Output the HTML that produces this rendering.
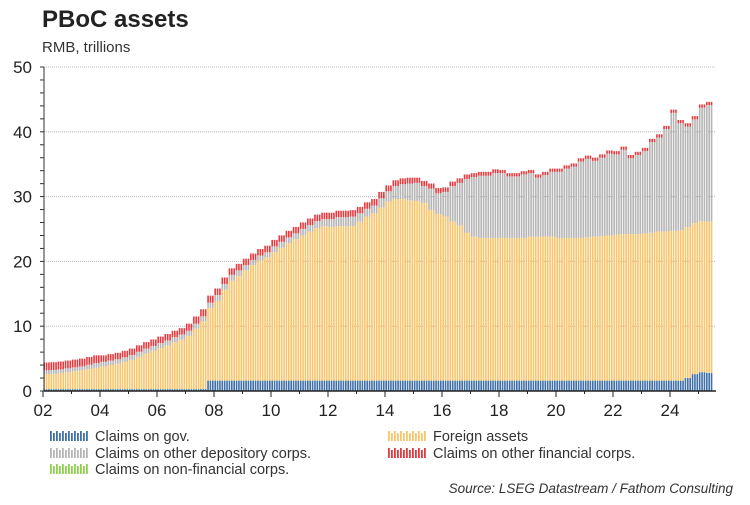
<!DOCTYPE html>
<html><head><meta charset="utf-8"><style>
body{margin:0;background:#fff;font-family:"Liberation Sans",Arial,sans-serif}
svg text{font-family:"Liberation Sans",Arial,sans-serif}
</style></head><body>
<svg id="c" width="750" height="500">
<text x="42" y="27" font-size="24" font-weight="bold" fill="#222">PBoC assets</text>
<text x="42" y="52" font-size="15" fill="#333">RMB, trillions</text>
<g id="grid"></g><g id="bars"></g><g id="axes"></g>
<g id="legend" font-size="14.5" fill="#333"></g>
<text x="733" y="493" font-size="13.5" font-style="italic" fill="#333" text-anchor="end">Source: LSEG Datastream / Fathom Consulting</text>
</svg>
<script>
// quarterly values 2002Q1..2025Q2 (RMB trillions), one line per year
const startYear = 2002;
const gov = [
0.28,0.28,0.28,0.28, //2002
0.28,0.28,0.28,0.28, //2003
0.28,0.28,0.28,0.28, //2004
0.28,0.28,0.28,0.28, //2005
0.28,0.28,0.28,0.28, //2006
0.28,0.28,0.3,1.6,   //2007
1.6,1.6,1.6,1.6, //2008
1.6,1.6,1.6,1.6, //2009
1.6,1.6,1.6,1.6, //2010
1.6,1.6,1.6,1.6, //2011
1.6,1.6,1.6,1.6, //2012
1.6,1.6,1.6,1.6, //2013
1.6,1.6,1.6,1.6, //2014
1.6,1.6,1.6,1.6, //2015
1.6,1.6,1.6,1.6, //2016
1.6,1.6,1.6,1.6, //2017
1.6,1.6,1.6,1.6, //2018
1.6,1.6,1.6,1.6, //2019
1.6,1.6,1.6,1.6, //2020
1.6,1.6,1.6,1.6, //2021
1.6,1.6,1.6,1.6, //2022
1.6,1.6,1.6,1.6, //2023
1.6,1.6,2.0,2.6, //2024
2.9,2.8];        //2025
const foreign = [
2.3,2.35,2.45,2.6, //2002
2.75,2.9,3.1,3.3,  //2003
3.5,3.7,3.9,4.2,   //2004
4.5,5.0,5.5,5.9,   //2005
6.3,6.7,7.2,7.6,   //2006
8.2,9.3,10.4,11.2, //2007
12.3,14.0,15.4,16.1, //2008
17.0,17.8,18.5,19.0, //2009
19.8,20.5,21.2,21.8, //2010
22.4,23.0,23.5,23.8, //2011
23.7,23.8,23.8,23.8, //2012
24.5,25.3,25.8,26.7, //2013
27.6,28.0,28.0,27.8, //2014
27.7,27.4,26.3,25.7, //2015
25.3,24.5,23.9,22.8, //2016
22.2,22.0,22.0,22.0, //2017
22.0,22.0,22.0,22.0, //2018
22.2,22.2,22.2,22.2, //2019
22.0,22.0,22.0,22.0, //2020
22.1,22.2,22.3,22.4, //2021
22.5,22.6,22.6,22.6, //2022
22.7,22.8,23.0,23.0, //2023
23.1,23.2,23.3,23.3, //2024
23.3,23.3];          //2025
const depository = [
0.6,0.6,0.6,0.6,     //2002
0.6,0.6,0.65,0.7,    //2003
0.7,0.7,0.7,0.7,     //2004
0.75,0.75,0.75,0.75, //2005
0.8,0.8,0.8,0.8,     //2006
0.8,0.8,0.8,0.8,     //2007
0.9,0.9,0.9,0.9,     //2008
0.8,0.8,0.8,0.8,     //2009
0.9,0.9,0.9,0.9,     //2010
1.0,1.0,1.1,1.1,     //2011
1.2,1.4,1.4,1.5,     //2012
1.3,1.2,1.2,1.4,     //2013
1.6,2.0,2.3,2.6,     //2014
2.8,2.6,3.3,3.2,     //2015
3.8,5.5,6.6,8.3,     //2016
9.2,9.6,9.6,10.0,    //2017
10.0,9.5,9.5,9.8,    //2018
9.8,9.1,9.5,10.0,    //2019
10.2,10.7,11.0,11.8, //2020
12.1,11.7,12.1,12.6, //2021
12.4,13.0,11.7,12.2, //2022
12.7,14.0,14.5,15.8, //2023
18.2,16.5,15.5,16.0, //2024
17.5,18.0];          //2025
const nonfin = [
0.02,0.02,0.02,0.02, 0.02,0.02,0.02,0.02, 0.02,0.02,0.02,0.02, 0.02,0.02,0.02,0.02, //2002-2005
0.02,0.02,0.02,0.02, 0.02,0.02,0.02,0.02, 0.02,0.02,0.02,0.02, 0.02,0.02,0.02,0.02, //2006-2009
0.02,0.02,0.02,0.02, 0.02,0.02,0.02,0.02, 0.02,0.02,0.02,0.02, 0.02,0.02,0.02,0.02, //2010-2013
0.02,0.02,0.02,0.02, 0.02,0.02,0.02,0.02, 0.02,0.02,0.02,0.02, 0.02,0.02,0.02,0.02, //2014-2017
0.02,0.02,0.02,0.02, 0.02,0.02,0.02,0.02, 0.02,0.02,0.02,0.02, 0.02,0.02,0.02,0.02, //2018-2021
0.02,0.02,0.02,0.02, 0.02,0.02,0.02,0.02, 0.02,0.02,0.02,0.02, //2022-2024
0.02,0.02]; //2025
const otherFin = [
1.2,1.2,1.2,1.2, //2002
1.2,1.2,1.2,1.2, //2003
1.0,1.0,1.0,1.0, //2004
1.0,1.0,1.0,1.0, //2005
1.0,1.0,1.0,1.0, //2006
1.1,1.1,1.1,1.1, //2007
1.0,1.0,1.0,1.0, //2008
1.0,1.0,1.0,1.0, //2009
1.0,1.0,1.0,1.0, //2010
1.0,1.0,1.0,1.0, //2011
1.0,1.0,1.0,1.0, //2012
1.0,1.0,1.0,1.0, //2013
0.9,0.9,0.9,0.9, //2014
0.8,0.8,0.8,0.8, //2015
0.7,0.7,0.7,0.7, //2016
0.6,0.6,0.6,0.6, //2017
0.5,0.5,0.5,0.5, //2018
0.5,0.5,0.5,0.5, //2019
0.5,0.5,0.5,0.5, //2020
0.5,0.5,0.5,0.5, //2021
0.5,0.5,0.5,0.5, //2022
0.5,0.5,0.5,0.5, //2023
0.5,0.5,0.5,0.5, //2024
0.5,0.5];        //2025
const yTicks = [0,10,20,30,40,50];
const xTickLabels = ["02","04","06","08","10","12","14","16","18","20","22","24"];

const NS="http://www.w3.org/2000/svg";
const X0=43, YW=28.5, Y0=391, YS=6.48;
const xs = t => X0 + (t - startYear) * YW;
const ys = v => Y0 - v * YS;
function mk(tag, attrs, parent){const e=document.createElementNS(NS,tag);for(const k in attrs)e.setAttribute(k,attrs[k]);parent.appendChild(e);return e;}
const grid=document.getElementById('grid'), bars=document.getElementById('bars'), axes=document.getElementById('axes'), legend=document.getElementById('legend');

yTicks.forEach(v=>{
  if(v>0){const l=mk('line',{x1:44,x2:716,y1:ys(v),y2:ys(v),stroke:'#bbb','stroke-dasharray':'1,1'},grid);
  
  }
  const t=mk('text',{x:32,y:ys(v)+6,'font-size':17,'text-anchor':'end',fill:'#222'},axes);
  t.textContent=v;
  
  
});
for(let v=0;v<=50;v+=2){mk('line',{x1:40,x2:44,y1:ys(v),y2:ys(v),stroke:'#333','stroke-width':1},axes);}
mk('line',{x1:44,x2:44,y1:ys(50),y2:Y0,stroke:'#333'},axes);

const series=[
 {d:gov,c:'#3f6fa8',n:'claims-on-gov'},
 {d:nonfin,c:'#8fd14f',n:'claims-on-non-financial'},
 {d:foreign,c:'#f9c46a',n:'foreign-assets'},
 {d:depository,c:'#b5b5b5',n:'claims-on-other-depository'},
 {d:otherFin,c:'#e63a3f',n:'claims-on-other-financial'}];
const nQ=Math.min(gov.length,foreign.length,depository.length,nonfin.length,otherFin.length);
for(let q=0;q<nQ;q++){
  for(let m=0;m<3;m++){
    const t=startYear+(q*3+m+0.5)/12;
    const x=xs(t)-0.8;
    let base=0;
    series.forEach(s=>{
      const v=s.d[q]||0;
      const r=mk('rect',{x:x,y:ys(base+v),width:1.6,height:Math.max(0,v*YS),fill:s.c},bars);
      
      
      base+=v;
    });
  }
}
mk('line',{x1:44,x2:716,y1:Y0,y2:Y0,stroke:'#222','stroke-width':1.5},axes);
for(let y=0;y<=23;y++){mk('line',{x1:xs(startYear+y),x2:xs(startYear+y),y1:Y0,y2:Y0+(y%2?3:6),stroke:'#222'},axes);}
xTickLabels.forEach((lab,i)=>{
  const t=mk('text',{x:xs(startYear+i*2),y:416,'font-size':17,'text-anchor':'middle',fill:'#222'},axes);
  t.textContent=lab;
  
  
});
const legItems=[
 ['Claims on gov.','#3f6fa8',50,441,'legend-claims-on-gov'],
 ['Claims on other depository corps.','#b5b5b5',50,458,'legend-claims-on-other-depository'],
 ['Claims on non-financial corps.','#8fd14f',50,474,'legend-claims-on-non-financial'],
 ['Foreign assets','#f9c46a',388,441,'legend-foreign-assets'],
 ['Claims on other financial corps.','#e63a3f',388,458,'legend-claims-on-other-financial']];
legItems.forEach(it=>{
  const g=mk('g',{},legend);
  
  
  for(let k=0;k<13;k++){mk('rect',{x:it[2]+k*3,y:it[3]-10+(k%2?2:0),width:1.8,height:k%2?8:10,fill:it[1]},g);}
  const t=mk('text',{x:it[2]+45,y:it[3]},g);
  t.textContent=it[0];
});
</script>
</body></html>
